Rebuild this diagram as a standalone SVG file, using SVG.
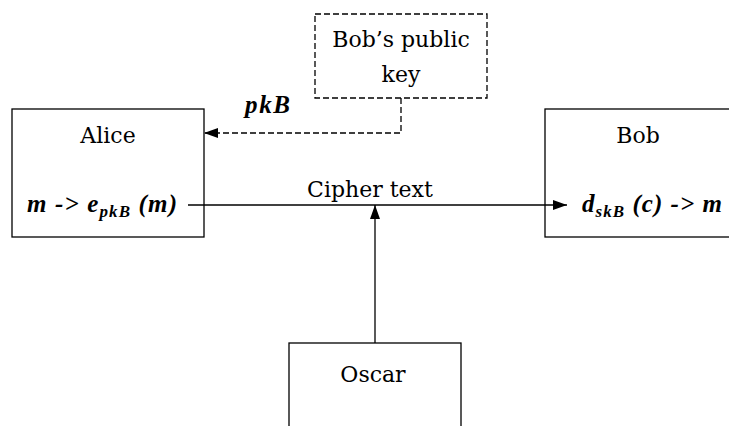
<svg xmlns="http://www.w3.org/2000/svg" width="729" height="426" viewBox="0 0 729 426">
  <style>
    .box { fill: #fff; stroke: #000; stroke-width: 1.3; }
    .dash { stroke-dasharray: 6 3; }
    .lbl { font-family: "DejaVu Serif", "Liberation Serif", serif; font-size: 22px; fill: #000; }
    .math { font-family: "Liberation Serif", "Times New Roman", serif; font-size: 25px; font-weight: bold; font-style: italic; fill: #000; }
    .sub { font-size: 17px; }
    .wire { fill: none; stroke: #000; stroke-width: 1.3; }
  </style>
  <defs>
    <marker id="arrow" markerUnits="userSpaceOnUse" markerWidth="14" markerHeight="10" refX="14" refY="5" orient="auto">
      <path d="M0,0 L14,5 L0,10 z" fill="#000"/>
    </marker>
  </defs>
  <rect width="729" height="426" fill="#fff"/>

  <g id="key">
    <rect class="box dash" x="315" y="14" width="172" height="84"/>
    <text class="lbl" x="401" y="47" text-anchor="middle">Bob’s public</text>
    <text class="lbl" x="401" y="82" text-anchor="middle">key</text>
  </g>

  <g id="alice">
    <rect class="box" x="12" y="109" width="192" height="128"/>
    <text class="lbl" x="108" y="143" text-anchor="middle">Alice</text>
    <text class="math" x="27" y="212" textLength="150" lengthAdjust="spacing">m -&gt; e<tspan class="sub" dy="5">pkB</tspan><tspan dy="-5"> (m)</tspan></text>
  </g>

  <g id="bob">
    <rect class="box" x="545" y="109" width="190" height="128"/>
    <text class="lbl" x="638" y="143" text-anchor="middle">Bob</text>
    <text class="math" x="582" y="212" textLength="140" lengthAdjust="spacing">d<tspan class="sub" dy="5">skB</tspan><tspan dy="-5"> (c) -&gt; m</tspan></text>
  </g>

  <g id="oscar">
    <rect class="box" x="289" y="343" width="172" height="100"/>
    <text class="lbl" x="373" y="382" text-anchor="middle">Oscar</text>
  </g>

  <g id="connectors">
    <path class="wire dash" d="M401,98 V133 H204" marker-end="url(#arrow)"/>
    <text class="math" x="245" y="113" textLength="45" lengthAdjust="spacing">pkB</text>
    <path class="wire" d="M188,205 H567" marker-end="url(#arrow)"/>
    <text class="lbl" x="370" y="197" text-anchor="middle">Cipher text</text>
    <path class="wire" d="M375,343 V205" marker-end="url(#arrow)"/>
  </g>
</svg>
